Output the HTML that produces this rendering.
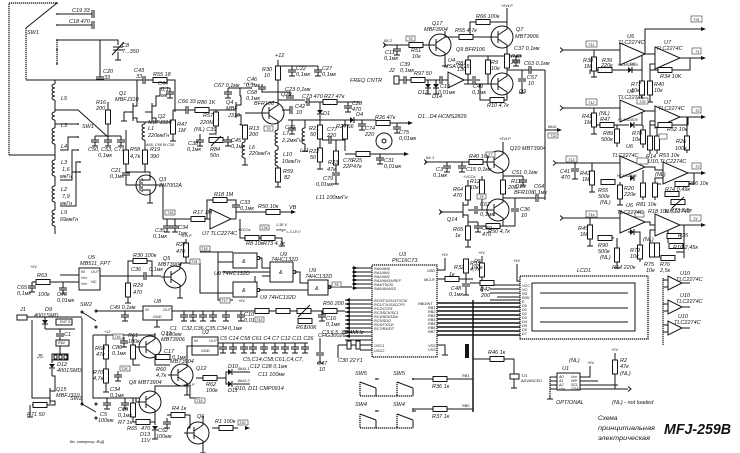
<!DOCTYPE html>
<html><head><meta charset="utf-8">
<style>
html,body{margin:0;padding:0;background:#fff;width:740px;height:453px;overflow:hidden}
svg{display:block}
.w{stroke:#141414;stroke-width:1;fill:none}
.b{stroke:#141414;stroke-width:1.5;fill:none}
.d{stroke:#141414;stroke-width:1.25;fill:none;stroke-dasharray:1.3 0.7}
.f{fill:#141414;stroke:none}
.rb{fill:#fff;stroke:#141414;stroke-width:1}
.lb{fill:#fff;stroke:#333;stroke-width:0.6}
.oa{fill:#fff;stroke:#141414;stroke-width:1}
text{font-family:"Liberation Sans",sans-serif;font-style:italic;font-size:5.5px;fill:#141414}
.s{font-size:3.8px}
.m{font-size:6.5px}
</style></head><body>
<svg width="740" height="453" viewBox="0 0 740 453" xmlns="http://www.w3.org/2000/svg">
<defs>
<g id="rh"><rect x="-7" y="-2.5" width="14" height="5" class="rb"/></g>
<g id="rv"><rect x="-2.5" y="-7" width="5" height="14" class="rb"/></g>
<g id="ch"><rect x="-1" y="-4" width="2" height="8" fill="#fff"/><path class="w" d="M-1 -4V4M1 -4V4" stroke-width="1.3"/></g>
<g id="cv"><rect x="-4" y="-1" width="8" height="2" fill="#fff"/><path class="w" d="M-4 -1H4M-4 1H4" stroke-width="1.3"/></g>
<g id="cg"><path class="w" d="M0 0V4M0 6V10M-3 10H3"/><path class="w" d="M-4 4H4M-4 6H4" stroke-width="1.3"/></g>
<g id="gn"><path class="w" d="M0 0V3M-3 3H3"/></g>
<g id="q"><circle r="11" class="w" fill="#fff" stroke-width="1.1"/><path class="w" d="M-14 0H-4M-4 2L5 8V14M-4 -2L5 -8V-14"/><path class="w" d="M-4 -6V6" stroke-width="1.6"/></g>
<g id="co"><path class="w" d="M0 0a3 2 0 0 0 0 4a3 2 0 0 0 0 4a3 2 0 0 0 0 4a3 2 0 0 0 0 4"/></g>
<g id="co2"><path class="w" d="M0 0a3 2 0 0 0 0 4a3 2 0 0 0 0 4"/></g>
<g id="dv"><path class="f" d="M-3 -2H3L0 2Z"/><path class="w" d="M-3 2H3"/></g>
<g id="dh"><path class="f" d="M-2 -3V3L2 0Z"/><path class="w" d="M2 -3V3"/></g>
<g id="ar"><path class="f" d="M0 0L-5 -2V2Z"/></g>
<g id="al"><path class="f" d="M0 0L5 -2V2Z"/></g>
<g id="ti"><path class="w" d="M-3 -2.5L0 0L-3 2.5"/></g>
<g id="sw"><path class="w" d="M0 0L16 6M16 6V14"/><path class="d" d="M0 0V14H16"/><circle cx="16" cy="-3" r="0.9" class="f"/><path class="w" d="M16 -3H19"/></g>
</defs>
<rect width="740" height="453" fill="#fff"/>

<!-- ===== TOP LEFT: SW1, caps, coils ===== -->
<path class="d" d="M9 155V3H57M26 28V80M57 40V64"/>
<path class="w" d="M9 155H55M57 3L26 28M57 14H92M57 25H92M57 40H118V45M118 52V57M100 40V77M100 79V80M26 80H143M145 80H153M167 80H175V112"/>
<use href="#ch" x="93" y="14"/><use href="#ch" x="93" y="25"/><use href="#cv" x="100" y="78"/><use href="#ch" x="144" y="80"/><use href="#rh" x="160" y="80"/>
<path class="w" d="M113 47H123M113 50H123" stroke-width="1.3"/><path class="w" d="M112 55L124 42"/><use href="#gn" x="118" y="57"/>
<circle cx="57" cy="3" r="0.9" class="f"/><circle cx="57" cy="14" r="0.9" class="f"/><circle cx="57" cy="25" r="0.9" class="f"/><circle cx="57" cy="40" r="0.9" class="f"/><circle cx="57" cy="50" r="0.9" class="f"/><circle cx="57" cy="64" r="0.9" class="f"/>
<text x="72" y="12">C19  33</text><text x="69" y="23">C18  470</text><text x="122" y="47">C8</text><text x="122" y="53">7...350</text>
<text x="103" y="73">C20</text><text x="104" y="79">33</text><text x="134" y="72">C43</text><text x="136" y="78">33</text><text x="153" y="76">R55 18</text><text x="27" y="34">SW1</text>
<path class="w" d="M55 80V84M55 100V112M55 120V128M55 144V160M55 176V186M55 202V210M55 226V234"/>
<use href="#co" x="55" y="84"/><use href="#co2" x="55" y="112"/><use href="#co" x="55" y="128"/><use href="#co" x="55" y="160"/><use href="#co" x="55" y="186"/><use href="#co" x="55" y="210"/>
<path class="w" d="M55 110H78L108 137M55 124H78M60 150H68V137H78M60 180H72V150H78M60 206H76V162H80M72 172H80"/>
<circle cx="78" cy="124" r="0.9" class="f"/><circle cx="78" cy="137" r="0.9" class="f"/><circle cx="78" cy="150" r="0.9" class="f"/><circle cx="80" cy="162" r="0.9" class="f"/><circle cx="80" cy="172" r="0.9" class="f"/>
<text x="61" y="100">L5</text><text x="61" y="127">L3</text><text x="82" y="128">SW1</text><text x="61" y="148">L4</text>
<text x="61" y="164">L3</text><text x="62" y="171">1,6</text><text x="60" y="178">мкГн</text>
<text x="61" y="191">L2</text><text x="62" y="198">7,9</text><text x="60" y="205">мкГн</text>
<text x="61" y="214">L9</text><text x="60" y="221">69мкГн</text>

<!-- ===== Q1 Q2 Q3 ===== -->
<path class="w" d="M137 80V106H133M124 118V112H133M133 118H137V122H173M152 106H156V96H160V88H170M152 118H156V122M145 122V124M145 140V150M126 130V150M126 164V185H136M145 164V172H126M108 102V110M108 124V136M95 136H121M173 110V120M173 134V138"/>
<path class="w" d="M133 103V121M152 103V121" stroke-width="1.6"/><path class="w" d="M145 112H152"/>
<use href="#cg" x="170" y="88"/><use href="#rv" x="173" y="127"/><use href="#gn" x="173" y="138"/><use href="#co" x="145" y="124"/>
<use href="#rv" x="126" y="157"/><use href="#rv" x="145" y="157"/><use href="#rv" x="108" y="117"/><use href="#cv" x="126" y="174"/>
<use href="#cg" x="95" y="136"/><use href="#cg" x="108" y="136"/><use href="#cg" x="121" y="136"/><use href="#gn" x="124" y="118"/>
<circle cx="146" cy="185" r="10" class="w" stroke-width="1.1"/>
<path class="w" d="M136 185H140M140 179V191M142 180H150V172H145M142 190H150V200M142 185H150M150 185H163V219" /><path class="w" d="M142 178V192" stroke-width="1.3" stroke-dasharray="3 1"/><use href="#gn" x="150" y="200"/>
<text x="119" y="95">Q1</text><text x="115" y="101">MBFJ310</text><text x="158" y="85">C44</text><text x="161" y="91">0,1</text><text x="161" y="97">мк</text>
<text x="158" y="118">Q2</text><text x="148" y="124">MBFJ310</text><text x="177" y="126">R47</text><text x="178" y="132">1M</text>
<text x="148" y="130">L1</text><text x="148" y="137">220мкГн</text><text class="s" x="146" y="146">A65, C66 0f C36</text>
<text x="96" y="104">R16</text><text x="96" y="110">200</text><text x="88" y="151">C50, C53, C71</text><text x="98" y="157">0,1мк</text>
<text x="130" y="151">R58</text><text x="130" y="158">4,7к</text><text x="150" y="151">R19</text><text x="150" y="158">390</text>
<text x="111" y="172">C21</text><text x="110" y="178">0,1мк</text><text x="159" y="181">Q3</text><text x="159" y="187">2N7002A</text>

<!-- ===== C66 R80 Q4 ===== -->
<path class="w" d="M173 110H186M188 110H195M209 110H236M216 110V112M216 126V134H209M222 140H228V136M200 134V138M228 88H252M240 96V88M240 124V125M245 113H259"/>
<path class="w" d="M236 102V118" stroke-width="1.6"/><path class="w" d="M236 105H241V96H240M236 115H241V125H245"/>
<use href="#ch" x="187" y="110"/><use href="#rh" x="202" y="110"/><use href="#rv" x="216" y="119"/><use href="#rh" x="216" y="140"/><path class="w" d="M211 146L221 136"/>
<use href="#cg" x="200" y="136"/><use href="#cg" x="228" y="136"/><use href="#cg" x="228" y="88"/>
<use href="#rv" x="245" y="132"/><path class="w" d="M245 125V126M245 139V142M245 158V162"/><use href="#co" x="245" y="142"/><use href="#gn" x="245" y="162"/>
<text x="178" y="103">C66 33</text><text x="197" y="104">R80 1K</text><text x="203" y="117">R57</text><text x="200" y="124">220M</text><text x="194" y="131">(NL) C39</text>
<text x="188" y="145">C38</text><text x="187" y="151">0,1мк</text><text x="210" y="151">R84</text><text x="210" y="157">50n</text><text x="231" y="142">C45</text><text x="231" y="148">0,1мк</text>
<text x="214" y="87">C67 0,1мк</text><text class="s" x="243" y="85">+VCCa</text><text x="226" y="104">Q4</text><text x="226" y="110">MBF</text><text x="228" y="117">J310</text>
<text x="249" y="130">R13</text><text x="249" y="136">200</text><text x="249" y="149">L6</text><text x="249" y="155">220мкГн</text>

<!-- ===== Q20 section ===== -->
<use href="#q" x="273" y="113"/>
<path class="w" d="M278 60V66M278 80V99M278 127V130M278 146V150M278 166V168M278 182V184M278 66H318M278 92H290V96M262 84V92H278M278 100H305M288 120H350M292 120V124M305 120V128M305 144V148"/>
<use href="#rv" x="278" y="73"/><use href="#cg" x="292" y="66"/><use href="#cg" x="318" y="66"/><use href="#cv" x="262" y="88"/><use href="#cv" x="290" y="97"/>
<use href="#co" x="278" y="130"/><use href="#co" x="278" y="150"/><use href="#rv" x="278" y="175"/><use href="#gn" x="278" y="184"/>
<use href="#cg" x="292" y="124"/><use href="#co" x="305" y="128"/><use href="#gn" x="305" y="148"/>
<path class="w" d="M282 110H290"/><use href="#ch" x="291" y="110"/>
<rect x="264" y="126" width="9" height="5" class="lb"/><text class="s" x="266" y="130">T8</text>
<text x="275" y="57">+12</text><text x="262" y="71">R30</text><text x="264" y="77">10</text><text x="296" y="70">C22</text><text x="296" y="76">0,1мк</text><text x="322" y="70">C27</text><text x="322" y="76">0,1мк</text>
<text x="247" y="81">C46</text><text x="246" y="87">0,1мк</text><text x="247" y="94">C68</text><text x="246" y="100">0,1мк</text><text x="285" y="91">C23 0,1мк</text>
<text x="281" y="96">Q20</text><text x="254" y="105">BFR106</text><text x="295" y="108">C42</text><text x="296" y="114">10</text>
<text x="283" y="135">L7</text><text x="282" y="142">2,2мкГн</text><text x="283" y="156">L10</text><text x="282" y="163">10мкГн</text><text x="283" y="173">R59</text><text x="284" y="179">82</text>
<text x="285" y="129">C72</text><text x="300" y="152">L11</text>
<path class="w" d="M305 102H307M309 102H323M337 102H360M320 102V110M320 115V125M320 139V148M320 162V166M322 140H329M331 140H345M345 120V125M345 139V151M336 140V151M336 165V172M336 176V181M345 120H350M354 120H376M390 123H410M345 154H356M370 154H405"/>
<use href="#ch" x="308" y="102"/><use href="#rh" x="330" y="102"/><use href="#cg" x="348" y="102"/><use href="#dv" x="320" y="112"/>
<use href="#rv" x="320" y="132"/><use href="#rv" x="320" y="155"/><use href="#ch" x="330" y="140"/><use href="#rv" x="345" y="132"/><use href="#rv" x="336" y="158"/><use href="#cv" x="336" y="174"/><use href="#gn" x="336" y="181"/>
<use href="#dh" x="352" y="120"/><use href="#cg" x="362" y="120"/><use href="#rh" x="383" y="123"/><use href="#cg" x="397" y="123"/><use href="#rh" x="363" y="154"/><use href="#cg" x="380" y="154"/><use href="#gn" x="320" y="166"/>
<circle cx="384" cy="141" r="8" class="w" stroke-width="1.3"/><circle cx="384" cy="141" r="2" class="w"/>
<use href="#ar" x="413" y="123"/><use href="#ar" x="409" y="154"/>
<text x="302" y="98">C73 470</text><text x="324" y="98">R27 47к</text><text x="352" y="105">C28</text><text x="352" y="111">470</text><text x="323" y="115">D1</text><text x="356" y="116">D4</text>
<text x="309" y="130">R21</text><text x="310" y="136">50</text><text x="309" y="153">R22</text><text x="310" y="159">50</text><text x="327" y="131">C77</text><text x="327" y="137">220</text>
<text x="336" y="128">R24 56</text><text x="328" y="164">R23</text><text x="327" y="171">47к</text><text x="343" y="162">C76</text><text x="343" y="168">22P</text>
<text x="323" y="180">C79</text><text x="316" y="186">0,01мк</text><text x="365" y="130">C74</text><text x="365" y="136">220</text><text x="375" y="119">R26 47к</text>
<text x="399" y="134">C75</text><text x="399" y="140">0,01мк</text><text x="352" y="162">R25</text><text x="353" y="168">47к</text><text x="384" y="162">C31</text><text x="384" y="168">0,01мк</text>
<text x="418" y="118">D1...D4 HCMS2829</text><text x="316" y="199">L11 100мкГн</text>

<!-- ===== Q17 Q7 Q9 ===== -->
<use href="#q" x="440" y="45"/><use href="#q" x="502" y="37"/><use href="#q" x="502" y="84"/>
<path class="w" d="M384 45H426M445 31V37H459M473 37H488M470 37V22H476M490 22H507V23M507 8V23M445 59V63M507 51V54M507 68V70M468 56H522M468 56V60M468 74V84M488 56V60M488 74V84M464 84H488M507 98V100H480V84M507 70H529M531 70H545M522 70V78M522 82V90"/>
<use href="#ti" x="386" y="45"/><use href="#cg" x="397" y="45"/><use href="#rh" x="416" y="45"/><use href="#rh" x="466" y="37"/><use href="#rh" x="483" y="22"/><use href="#gn" x="445" y="63"/>
<use href="#rv" x="507" y="61"/><use href="#cg" x="516" y="56"/><use href="#rv" x="468" y="67"/><use href="#rv" x="488" y="67"/><use href="#rh" x="497" y="100"/><use href="#ch" x="530" y="70"/><use href="#cv" x="522" y="80"/><use href="#gn" x="522" y="90"/>
<rect x="406" y="36" width="9" height="5" class="lb"/><text class="s" x="408" y="40">T6</text>
<text class="s" x="501" y="7">+5VLP</text><text x="476" y="18">R66 100к</text><text x="455" y="32">R55 4,7к</text><text x="432" y="25">Q17</text><text x="424" y="31">MBF3904</text>
<text x="516" y="31">Q7</text><text x="515" y="38">MBT3906</text><text x="411" y="52">R51</text><text x="412" y="58">10к</text><text x="385" y="54">C11</text><text x="384" y="60">0,1мк</text><text class="s" x="384" y="42">ВХ.2</text>
<text x="456" y="51">Q9 BFR106</text><text x="456" y="65">R87</text><text x="457" y="71">130</text><text x="491" y="64">R9</text><text x="491" y="70">10к</text>
<text x="511" y="58">R48</text><text x="511" y="64">200</text><text x="514" y="50">C37 0,1мк</text><text x="519" y="93">Q9</text><text x="527" y="79">C57</text><text x="528" y="85">10</text>
<text x="524" y="65">C63 0,1мк</text><text x="487" y="107">R10 4,7к</text>
<rect x="394" y="76" width="5" height="8" class="w"/>
<path class="w" d="M399 80H404M406 80H411M425 80H440M442 80H448M428 80V84M428 88V91M436 80V84M436 88V91M464 80H472M476 80H480"/>
<use href="#ch" x="405" y="80"/><use href="#rh" x="418" y="80"/><use href="#dv" x="428" y="86"/><use href="#dv" x="436" y="86"/><use href="#ch" x="441" y="80"/><use href="#ch" x="474" y="80"/><use href="#gn" x="428" y="91"/><use href="#gn" x="436" y="91"/>
<polygon points="448,72 448,88 464,80" class="oa"/>
<text x="389" y="72">J2</text><text x="350" y="82">FREQ CNTR</text><text x="400" y="66">C39</text><text x="400" y="72">0,1мк</text><text x="414" y="75">R97 50</text>
<text x="418" y="94">D12</text><text x="432" y="98">D14</text><text x="440" y="88">C19</text><text x="438" y="94">0,01мк</text><text x="448" y="62">U4</text><text x="444" y="68">MSA 0815</text><text x="473" y="88">C49</text><text x="472" y="94">0,1мк</text>
<path class="w" d="M545 70V200M545 130H558"/><use href="#ar" x="562" y="130"/>
<rect x="548" y="133" width="10" height="5" class="lb"/><text class="s" x="550" y="137">T32</text><text class="s" x="548" y="128">ВЫХ.</text>

<!-- ===== Q10 Q15 Q14 ===== -->
<use href="#q" x="498" y="162"/><use href="#q" x="498" y="210"/>
<path class="w" d="M425 162H484M503 148V142M503 176V180M503 194V196M503 176H523M482 176V180M482 194V210H484M503 198H536M538 198H545M515 198V208M515 212V226H500M486 226H475M503 224V226"/>
<use href="#ti" x="427" y="162"/><use href="#cg" x="447" y="162"/><use href="#cg" x="462" y="162"/><use href="#rh" x="476" y="162"/><use href="#rv" x="503" y="187"/><use href="#rv" x="482" y="187"/><use href="#cg" x="523" y="176"/>
<use href="#ch" x="537" y="198"/><use href="#cv" x="515" y="210"/><use href="#rh" x="493" y="226"/>
<path class="w" d="M463 202V218" stroke-width="1.6"/>
<path class="w" d="M440 212H463M463 205H468V200M468 186V180M463 215H468V226M468 240V244M468 210H474M478 210H484M468 222H478"/>
<use href="#ti" x="442" y="212"/><use href="#rv" x="468" y="193"/><use href="#rv" x="468" y="233"/><use href="#ch" x="476" y="210"/><use href="#cg" x="478" y="222"/><use href="#gn" x="468" y="244"/>
<rect x="486" y="152" width="9" height="5" class="lb"/><text class="s" x="488" y="156">T7</text><rect x="477" y="194" width="9" height="5" class="lb"/><text class="s" x="479" y="198">T8</text>
<text class="s" x="426" y="159">ВХ.1</text><text class="s" x="499" y="140">+5VLP</text><text x="510" y="150">Q10 MBT3904</text><text x="469" y="158">R40 10к</text>
<text x="436" y="171">C3</text><text x="433" y="177">0,1мк</text><text x="466" y="171">C15 0,1мк</text><text x="470" y="183">R12</text><text x="470" y="189">10к</text>
<text x="511" y="183">R11</text><text x="508" y="189">200</text><text x="515" y="188">Q15</text><text x="514" y="194">BFR106</text><text x="512" y="174">C51 0,1мк</text>
<text x="534" y="188">C64</text><text x="533" y="194">0,1мк</text><text x="520" y="211">C36</text><text x="521" y="217">10</text><text x="488" y="233">R50 4,7к</text>
<text class="s" x="463" y="178">+VCCa</text><text x="453" y="191">R64</text><text x="453" y="197">470</text><text x="480" y="206">C62</text><text x="480" y="216">0,1мк</text><text x="447" y="221">Q14</text>
<text x="453" y="231">R65</text><text x="455" y="237">1к</text><text x="482" y="230">C69</text><text x="482" y="236">470</text>

<!-- ===== RIGHT OP-AMPS ===== -->
<path class="w" d="M563 50H620M594 50V57M594 71V74M645 54H655M645 54V29H703M680 58H703M598 70H590V74M612 70H628M632 70H642V54M655 64H650V70H658M672 70H690V58M642 54V81M650 64V81M642 95V99M650 95V99"/>
<use href="#ti" x="563" y="50"/><polygon points="620,43 620,65 645,54" class="oa"/><polygon points="655,47 655,69 680,58" class="oa"/>
<use href="#rv" x="594" y="64"/><use href="#gn" x="594" y="74"/><use href="#rh" x="605" y="70"/><use href="#dh" x="630" y="70"/><use href="#rh" x="665" y="70"/><use href="#rv" x="642" y="88"/><use href="#rv" x="650" y="88"/><use href="#gn" x="642" y="99"/><use href="#gn" x="650" y="99"/>
<use href="#ar" x="706" y="29"/><use href="#ar" x="706" y="58"/>
<rect x="586" y="41" width="11" height="6" class="lb"/><text class="s" x="588" y="46">T11</text><rect x="691" y="16" width="11" height="6" class="lb"/><text class="s" x="693" y="21">T31</text><rect x="692" y="48" width="9" height="6" class="lb"/><text class="s" x="695" y="53">T1</text>
<text x="627" y="38">U5</text><text x="618" y="44">TLC2274C</text><text x="664" y="44">U7</text><text x="656" y="50">TLC2274C</text><text x="583" y="62">R38</text><text x="584" y="68">1M</text>
<text x="602" y="62">R39</text><text x="601" y="67">220к</text><text class="s" x="618" y="66">HCMS2829</text><text class="s" x="630" y="65">D5</text><text x="660" y="78">R34 10K</text><text x="631" y="86">R77</text><text x="631" y="92">10к</text><text x="654" y="86">R40</text><text x="654" y="92">10к</text>
<path class="w" d="M563 108H620M594 108V113M594 127V131M600 125H597M614 125H629M635 125H642V111M645 111H655M655 121H650V125H658M672 125H688V117M680 117H703M617 125V129M617 143V147M643 125V130M643 144V148M650 121V136M657 121V136M650 150V154M657 150V154M687 117V136M687 150V153"/>
<use href="#ti" x="563" y="108"/><polygon points="620,100 620,122 645,111" class="oa"/><polygon points="655,106 655,128 680,117" class="oa"/>
<use href="#rv" x="594" y="120"/><use href="#gn" x="594" y="131"/><use href="#rh" x="607" y="125"/><use href="#rv" x="617" y="136"/><use href="#dh" x="632" y="125"/><use href="#rh" x="665" y="125"/><use href="#rv" x="643" y="137"/><use href="#rv" x="650" y="143"/><use href="#rv" x="657" y="143"/><use href="#rv" x="687" y="143"/><use href="#ar" x="706" y="117"/>
<rect x="586" y="99" width="11" height="6" class="lb"/><text class="s" x="588" y="104">T12</text><rect x="637" y="98" width="11" height="6" class="lb"/><text class="s" x="639" y="103">T33</text><rect x="692" y="107" width="9" height="6" class="lb"/><text class="s" x="695" y="112">T2</text><rect x="659" y="134" width="8" height="5" class="lb"/>
<text x="627" y="93">U6</text><text x="618" y="99">TLC2274C</text><text x="664" y="104">U7</text><text x="658" y="110">TLC2274C</text><text x="582" y="118">R41</text><text x="584" y="124">1M</text>
<text x="599" y="115">(NL)</text><text x="600" y="121">R47</text><text class="s" x="618" y="121">HCMS2829</text><text x="603" y="135">R89</text><text x="601" y="141">500к</text><text x="667" y="131">R52 10к</text>
<text x="632" y="135">R78</text><text x="632" y="141">10к</text><text x="646" y="158">R14</text><text x="659" y="157">R53 10к</text><text x="676" y="143">R26</text><text x="675" y="150">100к</text>
<path class="w" d="M556 163H620M575 163V168M575 172V176M592 163V171M592 185V189M601 182H614M620 182V185M620 199V202M645 167H655V170H663M663 178H655V184H661M688 173H703M675 184H694V173M643 170V183M655 184V183M643 197V200M655 197V200"/>
<use href="#ti" x="556" y="163"/><polygon points="620,156 620,178 645,167" class="oa"/><polygon points="663,162 663,184 688,173" class="oa"/>
<use href="#cv" x="575" y="170"/><use href="#gn" x="575" y="176"/><use href="#rv" x="592" y="178"/><use href="#gn" x="592" y="189"/><use href="#rh" x="608" y="182"/><use href="#rv" x="620" y="192"/><use href="#dh" x="632" y="178"/><use href="#rh" x="682" y="184"/><use href="#rv" x="643" y="190"/><use href="#rv" x="655" y="190"/>
<use href="#rh" x="672" y="194"/><use href="#rh" x="678" y="202"/><path class="w" d="M672 208L684 197"/><use href="#ar" x="706" y="173"/><use href="#gn" x="620" y="202"/>
<rect x="566" y="156" width="11" height="6" class="lb"/><text class="s" x="568" y="161">T13</text><rect x="637" y="158" width="11" height="6" class="lb"/><rect x="692" y="163" width="9" height="6" class="lb"/><text class="s" x="695" y="168">T3</text>
<text x="560" y="173">C41</text><text x="561" y="179">470</text><text x="580" y="175">R43</text><text x="582" y="181">1M</text><text x="626" y="148">U6</text><text x="612" y="157">TLC2274C</text><text x="648" y="163">U10,TLC2274C</text>
<text x="598" y="192">R55</text><text x="598" y="198">500к</text><text x="600" y="204">(NL)</text><text x="624" y="190">R20</text><text x="624" y="196">220к</text><text class="s" x="617" y="177">HCMS2829</text>
<text x="636" y="206">R81 10к</text><text x="648" y="213">R18 10к</text><text x="688" y="185">R56 10к</text><text x="665" y="191">R74 0,49к</text><text x="670" y="212">R73 2,5к</text><text x="655" y="176">(NL)</text>
<path class="w" d="M563 218H620M590 218V225M590 239V243M598 238H614M617 238V248M617 262V265M645 222H650V225H655M655 230H650V245M680 225H703M668 230V243M684 225V258M650 245H660M660 258H672"/>
<use href="#ti" x="563" y="218"/><polygon points="620,211 620,233 645,222" class="oa"/><polygon points="655,214 655,236 680,225" class="oa"/>
<use href="#rv" x="590" y="232"/><use href="#gn" x="590" y="243"/><use href="#rh" x="605" y="238"/><use href="#rv" x="617" y="255"/><use href="#gn" x="617" y="265"/><use href="#dh" x="632" y="232"/><use href="#rh" x="674" y="236"/>
<use href="#rv" x="640" y="252"/><use href="#rv" x="652" y="250"/><use href="#rv" x="657" y="250"/><use href="#rh" x="668" y="258"/><path class="w" d="M640 245V232H628M640 259V262M676 252H684"/><use href="#rh" x="676" y="246"/><use href="#ar" x="706" y="225"/>
<rect x="586" y="211" width="11" height="6" class="lb"/><text class="s" x="588" y="216">T14</text><rect x="635" y="212" width="9" height="5" class="lb"/><rect x="690" y="215" width="11" height="6" class="lb"/><text class="s" x="693" y="220">T4</text>
<text x="626" y="207">U6</text><text x="617" y="214">TLC2274C</text><text x="664" y="213">TLC2274C</text><text x="578" y="230">R45</text><text x="580" y="236">1M</text>
<text x="598" y="247">R90</text><text x="598" y="253">500к</text><text x="600" y="259">(NL)</text><text x="612" y="269">R64 220к</text><text x="630" y="252">R79</text><text x="630" y="258">10к</text>
<text x="644" y="266">R75</text><text x="646" y="272">10к</text><text x="678" y="237">R35</text><text x="673" y="249">R16 2,45к</text><text x="660" y="266">R76</text><text x="660" y="272">2,5к</text><text x="643" y="241">(NL)</text>
<path class="d" d="M663 278V345"/>
<path class="w" d="M663 280H668M663 287H668M663 304H668M663 311H668M663 325H668M663 332H668M682 283H690M682 307H690M682 328H690"/>
<polygon points="668,276 668,290 682,283" class="oa"/><polygon points="668,300 668,314 682,307" class="oa"/><polygon points="668,321 668,335 682,328" class="oa"/>
<text x="680" y="275">U10</text><text x="676" y="281">TLC2274C</text><text x="680" y="297">U10</text><text x="676" y="303">TLC2274C</text><text x="678" y="318">U10</text><text x="674" y="324">TLC2274C</text>

<!-- ===== LCD and U3 ===== -->
<rect x="520" y="276" width="128" height="63" class="d" stroke-width="1.4"/>
<rect x="532" y="283" width="103" height="48" class="w" stroke-width="1.4"/>
<path class="w" d="M540 293H628M540 308H628M540 322H628" stroke-width="1.4"/>
<text x="577" y="272">LCD1</text>
<rect x="372" y="265" width="65" height="92" class="d"/>
<text x="399" y="256">U3</text><text x="392" y="262">PIC16C73</text>
<path class="w" d="M352 268H372M352 272H372M352 276H372M352 280H372M352 284H372M352 288H372M328 287H352M345 300H372M345 304H372M345 308H372M345 312H372M345 316H372M345 320H372M345 324H372M345 328H372M345 332H372M345 336H372M345 340H372M360 345H372M360 350H372M437 270H445V258M437 279H445M459 279H473M466 273V279M466 279V283M466 287V292M437 345H445V352M482 256V263M482 277V292M470 283H480M494 285H520M490 289H520M490 293H520M497 297H520M490 300H520M517 264V281H520"/>
<use href="#ar" x="358" y="268"/><use href="#ar" x="358" y="272"/><use href="#ar" x="358" y="276"/><use href="#ar" x="358" y="280"/><use href="#ar" x="358" y="284"/><use href="#ar" x="358" y="288"/>
<use href="#al" x="345" y="300"/><use href="#al" x="345" y="304"/><use href="#al" x="345" y="308"/><use href="#al" x="345" y="312"/><use href="#al" x="345" y="316"/><use href="#al" x="345" y="320"/><use href="#al" x="345" y="324"/><use href="#al" x="345" y="328"/><use href="#al" x="345" y="332"/><use href="#al" x="345" y="336"/>
<path class="b" d="M437 303H520M437 307H520M437 311H520M437 315H520M437 319H520M437 323H520M437 327H520M437 331H520M437 335H520" stroke-width="1.1"/>
<path class="b" d="M473 300V412"/>
<use href="#rh" x="452" y="279"/><use href="#rv" x="466" y="266"/><use href="#cv" x="466" y="285"/><use href="#gn" x="466" y="292"/><use href="#rv" x="482" y="270"/><use href="#rh" x="487" y="283"/><use href="#gn" x="445" y="352"/>
<rect x="347" y="341" width="4" height="8" class="w"/><rect x="356" y="341" width="4" height="8" class="w"/>
<text class="s" x="374" y="270">RA0/AN0</text><text class="s" x="374" y="274">RA1/AN1</text><text class="s" x="374" y="278">RA2/AN2</text><text class="s" x="374" y="282">RA3/AN3/VREF</text><text class="s" x="374" y="286">RA4/T0CKI</text><text class="s" x="374" y="290">RA5/AN4/SS</text>
<text class="s" x="374" y="302">RC0/T1OSO/T1CKI</text><text class="s" x="374" y="306">RC1/T1OSI/CCP2</text><text class="s" x="374" y="310">RC2/CCP1</text><text class="s" x="374" y="314">RC3/SCK/SCL</text><text class="s" x="374" y="318">RC4/SDI/SDA</text><text class="s" x="374" y="322">RC5/SDO</text><text class="s" x="374" y="326">RC6/TX/CK</text><text class="s" x="374" y="330">RC7/RX/DT</text>
<text class="s" x="374" y="347">OSC1</text><text class="s" x="374" y="352">OSC2</text><text class="s" x="427" y="272">VDD</text><text class="s" x="424" y="281">MCLR</text>
<text class="s" x="418" y="305">RB0/INT</text><text class="s" x="428" y="309">RB1</text><text class="s" x="428" y="313">RB2</text><text class="s" x="428" y="317">RB3</text><text class="s" x="428" y="321">RB4</text><text class="s" x="428" y="325">RB5</text><text class="s" x="428" y="329">RB6</text><text class="s" x="428" y="333">RB7</text><text class="s" x="428" y="347">VSS</text><text class="s" x="428" y="351">VSS</text>
<text class="s" x="522" y="287">VCC</text><text class="s" x="522" y="291">VO</text><text class="s" x="522" y="295">RS</text><text class="s" x="522" y="299">R/W</text><text class="s" x="522" y="303">E</text><text class="s" x="522" y="307">D0</text><text class="s" x="522" y="311">D1</text><text class="s" x="522" y="315">D2</text><text class="s" x="522" y="319">D3</text><text class="s" x="522" y="323">D4</text><text class="s" x="522" y="327">D5</text><text class="s" x="522" y="331">D6</text><text class="s" x="522" y="335">D7</text>
<text class="s" x="441" y="256">+5V</text><text x="454" y="269">R32</text><text x="449" y="276">1к</text><text x="470" y="265">R33</text><text x="470" y="271">4,7к</text><text x="451" y="290">C48</text><text x="449" y="296">0,1мк</text>
<text class="s" x="478" y="254">+5V</text><text x="474" y="263">R5</text><text x="471" y="269">100к</text><text x="480" y="291">R42</text><text x="481" y="297">200</text><text class="s" x="513" y="262">+5V</text>
<text x="322" y="334">C3 6,5...30</text><text x="341" y="334">Y2 4MHz</text><text x="338" y="362">C30 22</text><text x="356" y="362">Y1</text><text x="317" y="365">C47</text><text x="319" y="371">10</text>
<path class="w" d="M320 338V352M320 356V360M338 345H347M351 345H356M338 345V358"/><use href="#cv" x="320" y="354"/><use href="#gn" x="320" y="360"/>
<rect x="465" y="344" width="4" height="14" class="f"/>

<!-- ===== U7 left op-amp, T15 ===== -->
<path class="w" d="M163 219H191M205 219H210M207 219V200H213M227 200H236V219M231 219H236M236 212H266M280 212H292M167 219V222M175 219V222M240 219V238H245M259 238H261M275 238H282V243M236 200V205M236 208V212"/>
<polygon points="210,209 210,229 231,219" class="oa"/>
<use href="#rh" x="198" y="219"/><use href="#rh" x="220" y="200"/><use href="#rh" x="273" y="212"/><use href="#cv" x="236" y="206"/><use href="#ar" x="296" y="212"/>
<use href="#cg" x="167" y="222"/><use href="#cg" x="175" y="222"/><use href="#rh" x="252" y="238"/><use href="#rh" x="268" y="238"/><use href="#gn" x="282" y="243"/>
<rect x="165" y="210" width="10" height="5" class="lb"/><text class="s" x="167" y="214">T15</text>
<text x="193" y="214">R17 1M</text><text x="214" y="196">R18 1M</text><text x="240" y="204">C33</text><text x="240" y="210">0,1мк</text><text x="258" y="208">R50 10к</text><text x="289" y="209">VB</text>
<text x="202" y="235">U7 TLC2274C</text><text x="155" y="232">C35</text><text x="153" y="238">0,1мк</text><text x="178" y="229">C34</text><text x="178" y="235">1мк</text>
<text class="s" x="238" y="231">+VCCa</text><text x="246" y="245">R8 10к</text><text x="263" y="245">R73 4,7к</text><rect x="260" y="225" width="9" height="5" class="lb"/><text class="s" x="261" y="229">T34</text><text class="s" x="276" y="226">1.38 V</text><text class="s" x="276" y="231">mega</text><text class="s" x="286" y="233">&lt;-3.18 V</text>

<!-- ===== U5 MB511, Q5, gates U9 ===== -->
<rect x="79" y="268" width="21" height="22" class="w"/>
<text x="88" y="259">U5</text><text x="80" y="265">MB511_FPT</text><text class="s" x="81" y="273">IN</text><text class="s" x="81" y="279">Vcc</text><text class="s" x="81" y="285">Vcc</text><text class="s" x="91" y="273">OUT</text><text class="s" x="91" y="283">NC</text>
<path class="w" d="M32 282H36M50 282H79M63 282V284M60 275H79M100 276H144M146 276H161M128 276V261H133M147 261H152V276M128 276V283M128 297V300M180 263H186V257M186 243V239M180 291V295M186 263H200M200 263V293H233M200 252H233M218 252V262H233M222 272H270M218 262V300H233"/>
<use href="#rh" x="43" y="282"/><use href="#cg" x="32" y="282"/><use href="#cg" x="63" y="284"/><use href="#rh" x="140" y="261"/><use href="#ch" x="145" y="276"/><use href="#rv" x="128" y="290"/><use href="#gn" x="128" y="300"/>
<use href="#q" x="175" y="277"/><use href="#rv" x="186" y="250"/><use href="#gn" x="180" y="295"/>
<text class="s" x="30" y="268">+5V</text><text x="37" y="277">R63</text><text x="38" y="296">100к</text><text x="17" y="289">C65</text><text x="17" y="295">0,1мк</text><text x="57" y="296">C70</text><text x="57" y="302">0,01мк</text>
<text x="133" y="257">R30 100к</text><text x="131" y="271">C36</text><text x="149" y="271">0,1мк</text><text x="133" y="287">R29</text><text x="133" y="294">470</text>
<text x="163" y="260">Q5</text><text x="158" y="266">MBT3904</text><text x="176" y="246">R27</text><text x="176" y="253">470</text><text class="s" x="180" y="237">+5VLP</text>
<rect x="190" y="259" width="10" height="5" class="lb"/><text class="s" x="191" y="263">T31</text><rect x="200" y="246" width="10" height="5" class="lb"/><text class="s" x="201" y="250">T18</text>
<rect x="233" y="253" width="24" height="15" class="w" stroke-width="1.2"/><text x="242" y="263">&amp;</text>
<rect x="270" y="262" width="23" height="20" class="w" stroke-width="1.2"/><text x="279" y="274">&amp;</text>
<rect x="233" y="282" width="24" height="15" class="w" stroke-width="1.2"/><text x="242" y="292">&amp;</text>
<rect x="308" y="280" width="20" height="15" class="w" stroke-width="1.2"/><text x="315" y="290">&amp;</text>
<path class="w" d="M259 258H262V268H270M270 276H262M295 272H300V283H308M259 290H308M255 276V282"/>
<circle cx="258.5" cy="258" r="1.5" class="w"/><circle cx="294.5" cy="272" r="1.5" class="w"/><circle cx="258.5" cy="290" r="1.5" class="w"/><circle cx="329.5" cy="287" r="1.5" class="w"/>
<text x="214" y="275">U9 74HC132D</text><text x="280" y="256">U9</text><text x="271" y="261">74HC132D</text><text x="260" y="299">U9 74HC132D</text><text x="309" y="272">U9</text><text x="305" y="278">74HC132D</text>
<rect x="332" y="282" width="9" height="5" class="lb"/><text class="s" x="334" y="286">T8</text>

<!-- ===== U8 regulator and caps ===== -->
<rect x="143" y="306" width="29" height="14" class="w"/><text x="154" y="303">U8</text><text class="s" x="145" y="311">IN</text><text class="s" x="163" y="311">OUT</text><text class="s" x="153" y="318">GND</text>
<path class="w" d="M96 311H143M172 311H345M157 320V324"/>
<use href="#cg" x="125" y="311"/><use href="#gn" x="157" y="324"/>
<use href="#cg" x="184" y="311"/><use href="#cg" x="193" y="311"/><use href="#cg" x="203" y="311"/><use href="#cg" x="213" y="311"/><use href="#cg" x="226" y="311"/><use href="#cg" x="241" y="311"/>
<use href="#rh" x="262" y="311"/><use href="#rh" x="283" y="311"/><use href="#rh" x="304" y="311"/><path class="w" d="M298 317L310 305"/><use href="#rh" x="330" y="311"/><use href="#cg" x="322" y="311"/><use href="#rh" x="305" y="321"/>
<text x="110" y="309">C49 0,1мк</text><text x="170" y="330">C1</text><text x="166" y="336">100мк</text><text x="182" y="330">C32,C36,C35,C34</text><text x="228" y="330">0,1мк</text>
<text class="s" x="238" y="302">+5V</text><text x="244" y="316">C10</text><text x="244" y="322">0,01мк</text><rect x="220" y="298" width="10" height="5" class="lb"/><text class="s" x="221" y="302">T17</text>
<text x="323" y="305">R56 200</text><text x="296" y="329">R67</text><text x="304" y="329">100К</text><text x="326" y="320">C16</text><text x="326" y="326">0,1мк</text><text x="318" y="337">CHG30026</text>
<rect x="255" y="317" width="9" height="5" class="lb"/><text class="s" x="256" y="321">T16</text>

<!-- ===== bottom block: R68 Q13 U2 Q12 Q8 Q6 ===== -->
<path class="w" d="M93 335H133M133 335H155V336M93 335V398H140M106 335V345M106 359V369M106 383V389M133 335V345M133 359V365H140M140 347H136M155 358V365H170M187 361V346H218M169 357H156M169 375H168M196 378H203M217 378H226V372H228M226 378V384H228M233 372H250M233 384H250M187 389V392M218 343H308"/>
<use href="#rv" x="106" y="352"/><use href="#rv" x="106" y="376"/><use href="#gn" x="106" y="389"/><use href="#rv" x="133" y="352"/>
<use href="#cg" x="124" y="337"/><use href="#cg" x="118" y="371"/>
<use href="#q" x="150" y="347"/><use href="#q" x="182" y="375"/><use href="#rh" x="163" y="357"/><use href="#rh" x="210" y="378"/><use href="#dh" x="230" y="372"/><use href="#dh" x="230" y="384"/><use href="#gn" x="187" y="392"/>
<rect x="192" y="337" width="26" height="18" class="w"/><text x="202" y="334">U2</text><text class="s" x="194" y="342">IN</text><text class="s" x="209" y="342">OUT</text><text class="s" x="201" y="352">GND</text>
<use href="#cg" x="223" y="343"/><use href="#cg" x="233" y="343"/><use href="#cg" x="244" y="343"/><use href="#cg" x="253" y="343"/><use href="#cg" x="264" y="343"/><use href="#cg" x="275" y="343"/><use href="#cg" x="285" y="343"/><use href="#cg" x="295" y="343"/><use href="#cg" x="305" y="343"/>
<text x="220" y="340">C5 C14 C58 C61 C4 C7 C12 C11 C26</text>
<text x="243" y="361">C5,C14,C58,C61,C4,C7,</text><text x="250" y="368">C12 C28 0,1мк</text><text x="258" y="376">C11 100мк</text><text x="235" y="390">D10, D11 CMP0914</text>
<rect x="113" y="334" width="10" height="5" class="lb"/><text class="s" x="114" y="338">T16</text><text class="s" x="104" y="333">+12</text>
<text x="95" y="350">R68</text><text x="96" y="356">47к</text><text x="93" y="374">R70</text><text x="93" y="380">4,7к</text><text x="112" y="349">C86</text><text x="112" y="355">0,1мк</text><text x="110" y="391">C34</text><text x="110" y="397">0,1мк</text>
<rect x="120" y="366" width="10" height="5" class="lb"/><text class="s" x="121" y="370">T26</text>
<text x="128" y="337">R61</text><text x="128" y="343">100к</text><text x="161" y="335">Q13</text><text x="161" y="341">MBT3906</text><text x="164" y="353">C17</text><text x="172" y="359">0,1мк</text>
<text x="156" y="371">R60</text><text x="156" y="377">4,7к</text><text x="170" y="363">MBT3904</text><text x="196" y="370">Q12</text><text x="206" y="386">R62</text><text x="206" y="392">100к</text>
<text x="228" y="368">D10</text><text x="228" y="392">D11</text><text class="s" x="238" y="370">ВЫХ.1</text><text class="s" x="238" y="382">ВЫХ.2</text>
<use href="#q" x="150" y="402"/><use href="#q" x="198" y="433"/>
<path class="w" d="M107 398V399M125 398V399M133 398V403M133 417V422H136M150 422H155V416M155 422V425M155 431V436M167 415H171M185 415H190V428H187M155 388V386H190V398H200M203 419V416M203 447V450M212 428H219M233 428H238M136 402V398"/>
<use href="#cg" x="107" y="399"/><use href="#cg" x="125" y="399"/><use href="#rv" x="133" y="410"/><use href="#rh" x="143" y="422"/><use href="#dv" x="155" y="428"/><use href="#gn" x="155" y="436"/><use href="#cg" x="167" y="418"/><use href="#rh" x="178" y="415"/><use href="#rh" x="226" y="428"/><use href="#ar" x="250" y="428"/><use href="#gn" x="203" y="450"/>
<rect x="238" y="420" width="10" height="5" class="lb"/><text class="s" x="239" y="424">T20</text><rect x="195" y="398" width="10" height="5" class="lb"/><text class="s" x="196" y="402">T18</text><text class="s" x="183" y="386">+5VLP</text>
<text x="129" y="384">Q8 MBT3904</text><text x="100" y="416">C5</text><text x="98" y="422">100мк</text><text x="118" y="411">C10</text><text x="118" y="417">0,1мк</text><text x="118" y="424">R7 1к</text>
<text x="127" y="430">R65</text><text x="141" y="430">470</text><text x="140" y="436">D13</text><text x="141" y="442">11V</text><text x="158" y="432">C52</text><text x="156" y="438">100мк</text>
<text x="172" y="410">R4 1к</text><text x="197" y="418">Q6</text><text x="215" y="423">R1 100к</text>

<!-- ===== bottom left: J1, D9, J5, Q15, SW2 ===== -->
<rect x="17" y="315" width="10" height="5" class="w"/><text x="20" y="311">J1</text>
<path class="w" d="M27 317H82M45 317V329M32 320V398H47M45 329H75M60 329V333M60 337V340M60 346V354M52 360V363M52 369V376M82 318V404"/>
<use href="#dv" x="45" y="322"/><rect x="56" y="319" width="16" height="6" class="w"/><use href="#cv" x="60" y="335"/><rect x="56" y="340" width="13" height="6" class="w"/>
<rect x="52" y="354" width="16" height="6" class="w"/><rect x="54" y="355" width="3" height="4" class="w"/><rect x="59" y="355" width="3" height="4" class="w"/><rect x="64" y="355" width="3" height="4" class="w"/>
<use href="#dv" x="52" y="366"/><path class="w" d="M50 388V404" stroke-width="1.6"/><path class="w" d="M50 391H55V376H52M50 401H55V405H47M32 398H50M32 405H33M30 405V414"/>
<use href="#rh" x="40" y="405"/><use href="#gn" x="30" y="414"/>
<text x="45" y="311">D9</text><text x="34" y="317">4001SMD</text><text class="s" x="60" y="323">R47 5</text><text x="64" y="336">C1</text><text class="s" x="58" y="344">R52</text>
<text x="37" y="358">J5</text><text x="57" y="366">D12</text><text x="57" y="372">4001SMD</text><text x="56" y="391">Q15</text><text x="56" y="397">MBFJ310</text><text x="27" y="416">R71 50</text>
<text x="80" y="306">SW2</text><path class="w" d="M82 312L96 321"/><circle cx="82" cy="312" r="1" class="w"/><circle cx="96" cy="311" r="1" class="w"/><circle cx="96" cy="327" r="1" class="w"/>
<text x="70" y="400">SW2</text><path class="w" d="M82 404L96 412"/><circle cx="82" cy="404" r="1" class="w"/><circle cx="96" cy="404" r="1" class="w"/><circle cx="96" cy="418" r="1" class="w"/>
<text class="s" x="70" y="443">Вн. инвертир. ВЧД</text>

<!-- ===== switches bottom middle ===== -->
<use href="#sw" x="360" y="382"/><use href="#sw" x="397" y="382"/><use href="#sw" x="360" y="414"/><use href="#sw" x="397" y="414"/>
<path class="d" d="M376 396H397M376 428H397"/>
<text x="355" y="375">SW5</text><text x="393" y="375">SW5</text><text x="355" y="406">SW4</text><text x="393" y="406">SW4</text>
<path class="w" d="M413 379H433M447 379H473M413 409H433M447 409H473M473 359H490M504 359H514V374M514 379V385"/>
<circle cx="413" cy="379" r="0.9" class="f"/><circle cx="413" cy="409" r="0.9" class="f"/>
<use href="#rh" x="440" y="379"/><use href="#rh" x="440" y="409"/><use href="#rh" x="497" y="359"/><rect x="510" y="374" width="9" height="5" class="w"/><use href="#gn" x="514" y="385"/>
<text x="432" y="388">R36 1к</text><text x="432" y="418">R37 1к</text><text x="488" y="354">R46 1к</text><text class="s" x="462" y="377">RB1</text><text class="s" x="462" y="407">RB0</text><text class="s" x="521" y="377">T21</text><text class="s" x="521" y="382">ADVANCED</text>

<!-- ===== U1 optional ===== -->
<rect x="557" y="373" width="23" height="17" class="w"/>
<path class="w" d="M550 377H557M550 381H557M550 385H557M550 389H557M580 377H590V370M580 381H598M580 385H618M580 389H628M615 353V360M615 374V389M590 370V366"/>
<path class="d" d="M550 377V396"/><use href="#gn" x="550" y="396"/><use href="#rv" x="615" y="367"/><use href="#ti" x="631" y="389"/>
<text class="s" x="559" y="378">A0</text><text class="s" x="559" y="382">A1</text><text class="s" x="559" y="386">A2</text><text class="s" x="559" y="390">Vss</text><text class="s" x="571" y="378">Vcc</text><text class="s" x="571" y="382">WP</text><text class="s" x="571" y="386">SCL</text><text class="s" x="571" y="390">SDA</text>
<text x="562" y="370">U1</text><text x="569" y="362">(NL)</text><text class="s" x="587" y="364">+5V</text><text class="s" x="611" y="351">+5V</text>
<text x="620" y="362">R2</text><text x="620" y="368">47к</text><text x="620" y="375">(NL)</text><text x="556" y="404">OPTIONAL</text><text x="612" y="404">(NL) - not loaded</text>

<!-- ===== title ===== -->
<text class="m" x="598" y="420">Схема</text>
<text class="m" x="598" y="430" textLength="57" lengthAdjust="spacingAndGlyphs">принципиальная</text>
<text class="m" x="598" y="440" textLength="52" lengthAdjust="spacingAndGlyphs">электрическая</text>
<text x="664" y="434" style="font-size:15px;font-weight:bold" textLength="67" lengthAdjust="spacingAndGlyphs">MFJ-259B</text>
</svg>
</body></html>
